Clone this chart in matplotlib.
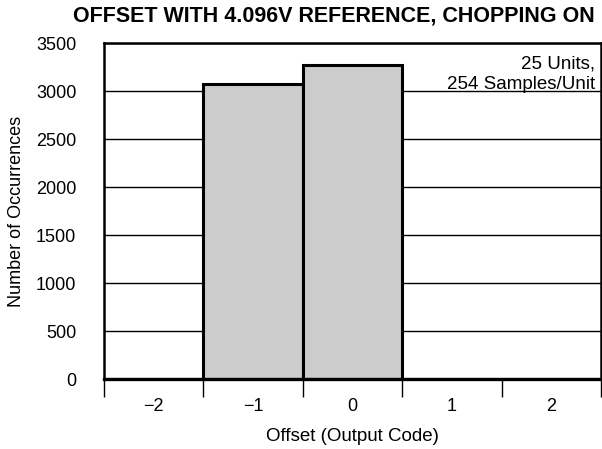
import matplotlib
matplotlib.use("Agg")
import matplotlib.pyplot as plt

plt.rcParams['font.family'] = ['Liberation Sans', 'DejaVu Sans']

codes = [-2, -1, 0, 1, 2]
counts = [0, 3075, 3275, 0, 0]
code_labels = ['\u22122', '\u22121', '0', '1', '2']
y_ticks = [0, 500, 1000, 1500, 2000, 2500, 3000, 3500]

fig = plt.figure(figsize=(6.02, 4.49), dpi=100)
ax = fig.add_axes([104 / 602, 1 - 379 / 449, 497 / 602, 336 / 449])

for y in y_ticks:
    ax.axhline(y, color='black', lw=1.0, zorder=1)

ax.bar(codes, counts, width=1.0, color='#cccccc', edgecolor='black',
       linewidth=2.2, zorder=2)

ax.set_xlim(-2.5, 2.5)
ax.set_ylim(0, 3500)
ax.set_yticks(y_ticks)
ax.set_xticks(codes)
ax.set_xticklabels(code_labels)
ax.set_xticks([-2.5, -1.5, -0.5, 0.5, 1.5, 2.5], minor=True)
ax.tick_params(axis='x', which='major', length=0, pad=14, labelsize=13)
ax.tick_params(axis='x', which='minor', length=13, width=1.0, direction='out')
ax.tick_params(axis='y', length=0, pad=20, labelsize=13)

for side in ['left', 'right', 'top']:
    ax.spines[side].set_linewidth(1.8)
ax.spines['bottom'].set_linewidth(2.4)

ax.set_xlabel('Offset (Output Code)', fontsize=13.5, labelpad=9)
ax.set_ylabel('Number of Occurrences', fontsize=13, labelpad=8)

ax.text(0.988, 0.962, '25 Units,\n254 Samples/Unit', transform=ax.transAxes,
        ha='right', va='top', fontsize=13.5, linespacing=1.25)

fig.text(595 / 602, 1 - 16 / 449, 'OFFSET WITH 4.096V REFERENCE, CHOPPING ON',
         ha='right', va='center', fontsize=15.5, fontweight='bold')

fig.savefig('out.png', dpi=100)
